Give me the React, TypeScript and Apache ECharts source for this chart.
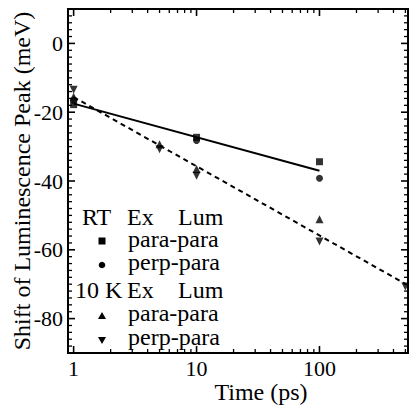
import React, { useEffect, useRef } from "react";
import * as echarts from "echarts";

// ---- data ----
const rtParaPara: [number, number][] = [[1, -17.8], [10, -27.3], [100, -34.4]];
const rtPerpPara: [number, number][] = [[1, -16.5], [10, -28.2], [100, -39.2]];
const k10ParaPara: [number, number][] = [[1, -15.5], [5, -29.3], [10, -36.5], [100, -51.1]];
const k10PerpPara: [number, number][] = [[1, -13.5], [5, -30.8], [10, -38.5], [100, -57.6], [500, -70.7]];
const rtFit: [number, number][] = [[1, -17.5], [100, -37.0]];
const k10Fit: [number, number][] = [[1, -15.6], [500, -69.9]];

const xMajorTicks = [1, 10, 100];
const xMinorTicks = [2, 3, 4, 5, 6, 7, 8, 9, 20, 30, 40, 50, 60, 70, 80, 90, 200, 300, 400, 500];
const yMajorTicks = [-80, -60, -40, -20, 0];
const yMinorTicks = [
  -88, -86, -84, -82, -78, -76, -74, -72, -70, -68, -66, -64, -62, -58, -56, -54, -52, -50, -48, -46, -44, -42,
  -38, -36, -34, -32, -30, -28, -26, -24, -22, -18, -16, -14, -12, -10, -8, -6, -4, -2, 2, 4, 6, 8,
];
const X_MIN = 0.9;
const X_MAX = 525;
const Y_MIN = -90;
const Y_MAX = 10;

const FONT = "Liberation Serif";

export default function App() {
  const ref = useRef<HTMLDivElement>(null);
  useEffect(() => {
    if (!ref.current) return;
    const chart = echarts.init(ref.current, undefined, { renderer: "svg" });

    // tick table: [x, y, kind]  kind 0 = x major, 1 = x minor, 2 = y major, 3 = y minor
    const tickData: number[][] = [
      ...xMajorTicks.map((v) => [v, Y_MIN, 0]),
      ...xMinorTicks.map((v) => [v, Y_MIN, 1]),
      ...yMajorTicks.map((v) => [X_MIN, v, 2]),
      ...yMinorTicks.map((v) => [X_MIN, v, 3]),
    ];

    const renderTick = (params: any, api: any) => {
      const kind = api.value(2);
      const major = kind === 0 || kind === 2;
      const L = major ? 7 : 4;
      const style = { stroke: "#000", lineWidth: major ? 1.6 : 1.3 };
      if (kind === 0 || kind === 1) {
        const x = api.value(0);
        const b = api.coord([x, Y_MIN]);
        const t = api.coord([x, Y_MAX]);
        return {
          type: "group",
          children: [
            { type: "line", shape: { x1: b[0], y1: b[1], x2: b[0], y2: b[1] - L }, style },
            { type: "line", shape: { x1: t[0], y1: t[1], x2: t[0], y2: t[1] + L }, style },
          ],
        };
      }
      const y = api.value(1);
      const l = api.coord([X_MIN, y]);
      const r = api.coord([X_MAX, y]);
      return {
        type: "group",
        children: [
          { type: "line", shape: { x1: l[0], y1: l[1], x2: l[0] + L, y2: l[1] }, style },
          { type: "line", shape: { x1: r[0], y1: r[1], x2: r[0] - L, y2: r[1] }, style },
        ],
      };
    };

    const markerRows = [
      { y: 241, kind: "rect" },
      { y: 265, kind: "circle" },
      { y: 316, kind: "up" },
      { y: 340, kind: "down" },
    ];
    const mx = 102;
    const legendMarkers = markerRows.map((r) => {
      if (r.kind === "rect") return { type: "rect", shape: { x: mx - 3.5, y: r.y - 3.5, width: 7, height: 7 }, style: { fill: "#000" } };
      if (r.kind === "circle") return { type: "circle", shape: { cx: mx, cy: r.y, r: 3.3 }, style: { fill: "#000" } };
      if (r.kind === "up") return { type: "polygon", shape: { points: [[mx, r.y - 4], [mx - 4, r.y + 3], [mx + 4, r.y + 3]] }, style: { fill: "#000" } };
      return { type: "polygon", shape: { points: [[mx, r.y + 4], [mx - 4, r.y - 3], [mx + 4, r.y - 3]] }, style: { fill: "#000" } };
    });
    const txt = (text: string, x: number, y: number) => ({
      type: "text",
      x,
      y,
      style: { text, fill: "#000", fontFamily: FONT, fontSize: 24, lineHeight: 20, verticalAlign: "middle" },
    });

    chart.setOption({
      animation: false,
      backgroundColor: "#fff",
      textStyle: { fontFamily: FONT },
      grid: { left: 68, top: 9, right: 4, bottom: 52, containLabel: false, outerBoundsMode: "none", show: true, borderColor: "#000", borderWidth: 2, backgroundColor: "transparent" },
      xAxis: {
        type: "log",
        logBase: 10,
        min: X_MIN,
        max: X_MAX,
        axisLine: { show: false, onZero: false },
        axisTick: { show: false },
        axisLabel: { show: true, customValues: xMajorTicks, color: "#000", fontFamily: FONT, fontSize: 22, margin: 4, formatter: (v: number) => String(v) },
        splitLine: { show: false },
        name: "Time (ps)",
        nameLocation: "middle",
        nameGap: 27,
        nameMoveOverlap: false,
        nameTextStyle: { color: "#000", fontFamily: FONT, fontSize: 24, padding: [0, 0, 0, 46] },
      },
      yAxis: {
        type: "value",
        min: Y_MIN,
        max: Y_MAX,
        axisLine: { show: false, onZero: false },
        axisTick: { show: false },
        axisLabel: { show: true, customValues: yMajorTicks, color: "#000", fontFamily: FONT, fontSize: 22, margin: 5, formatter: (v: number) => String(v) },
        splitLine: { show: false },
        name: "Shift of Luminescence Peak (meV)",
        nameLocation: "middle",
        nameGap: 34,
        nameMoveOverlap: false,
        nameTextStyle: { color: "#000", fontFamily: FONT, fontSize: 24 },
      },
      graphic: [
        txt("RT", 82, 217),
        txt("Ex", 127, 217),
        txt("Lum", 178, 217),
        txt("para-para", 128, 239),
        txt("perp-para", 128, 262),
        txt("10 K", 75, 290),
        txt("Ex", 127, 290),
        txt("Lum", 178, 290),
        txt("para-para", 128, 313),
        txt("perp-para", 128, 337),
        ...legendMarkers,
      ],
      series: [
        { type: "custom", coordinateSystem: "cartesian2d", data: tickData, renderItem: renderTick, clip: false, silent: true, z: 5, encode: { x: 0, y: 1 } },
        { type: "line", data: rtFit, symbol: "none", lineStyle: { color: "#000", width: 2, type: "solid" }, silent: true, z: 1 },
        { type: "line", data: k10Fit, symbol: "none", lineStyle: { color: "#000", width: 2, type: [5, 4] }, silent: true, z: 1 },
        { type: "scatter", name: "RT para-para", data: rtParaPara, symbol: "rect", symbolSize: 7, itemStyle: { color: "#000" }, z: 3 },
        { type: "scatter", name: "RT perp-para", data: rtPerpPara, symbol: "circle", symbolSize: 7, itemStyle: { color: "#000" }, z: 3 },
        { type: "scatter", name: "10 K para-para", data: k10ParaPara, symbol: "triangle", symbolSize: 8, itemStyle: { color: "#000" }, z: 3 },
        { type: "scatter", name: "10 K perp-para", data: k10PerpPara, symbol: "triangle", symbolRotate: 180, symbolSize: 8, itemStyle: { color: "#000" }, z: 3 },
      ],
    });
    return () => chart.dispose();
  }, []);
  return <div ref={ref} style={{ width: 412, height: 405, position: "absolute", left: 0, top: 0 }} />;
}
